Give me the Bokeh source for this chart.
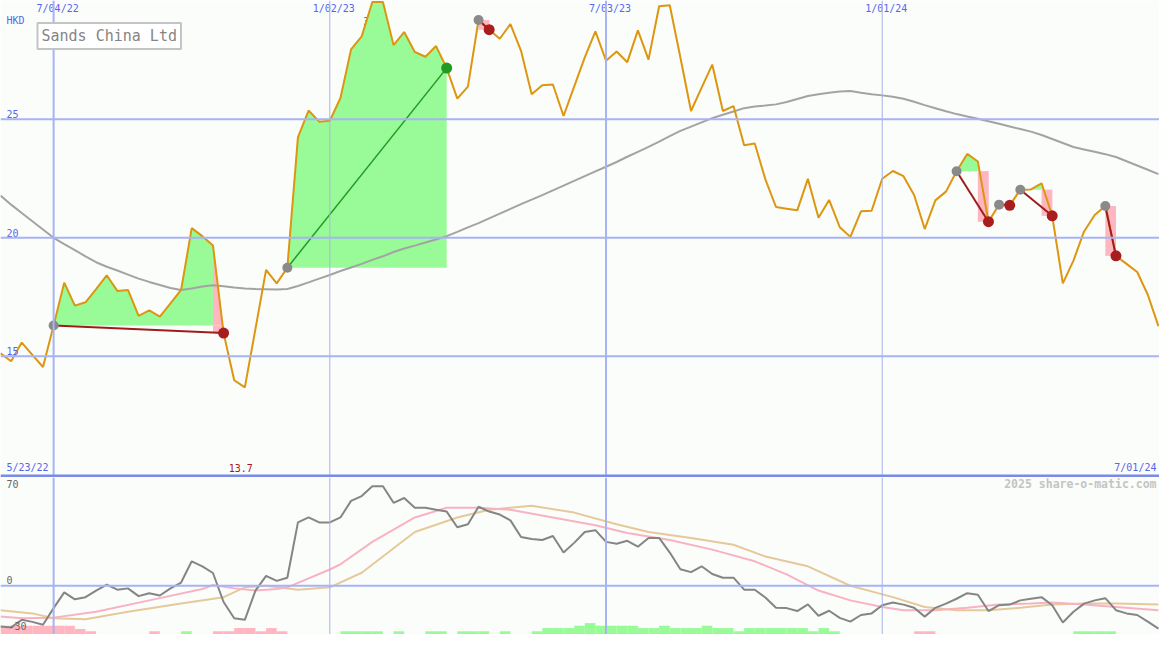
import numpy as np
import pandas as pd
from bokeh.plotting import figure
from bokeh.layouts import column
from bokeh.models import Range1d, Span, Label
from bokeh.core.properties import value
from bokeh.embed import file_html
from bokeh.resources import INLINE

# ---------------- data ----------------
first_week = "2022-05-30"
n_weeks = 110
price = [15.13, 14.79, 15.58, 15.06, 14.55, 16.30, 18.11, 17.14, 17.28, 17.84,
         18.42, 17.76, 17.80, 16.71, 16.94, 16.68, 17.23, 17.80, 20.41, 20.07,
         19.68, 15.98, 13.99, 13.69, 16.16, 18.65, 18.08, 18.74, 24.25, 25.37,
         24.90, 24.94, 25.90, 27.95, 28.50, 29.95, 29.95, 28.13, 28.68, 27.84,
         27.64, 28.09, 27.16, 25.87, 26.38, 29.19, 28.78, 28.40, 29.02, 27.89,
         26.06, 26.44, 26.47, 25.14, 26.38, 27.61, 28.71, 27.47, 27.86, 27.41,
         28.75, 27.52, 29.77, 29.81, 27.61, 25.35, 26.34, 27.31, 25.35, 25.56,
         23.91, 23.98, 22.47, 21.30, 21.23, 21.16, 22.49, 20.85, 21.60, 20.45,
         20.04, 21.12, 21.14, 22.49, 22.82, 22.60, 21.81, 20.37, 21.58, 21.95,
         22.81, 23.54, 23.22, 20.68, 21.40, 21.37, 22.03, 22.04, 22.30, 20.93,
         18.08, 19.04, 20.27, 20.96, 21.34, 19.24, 18.90, 18.56, 17.60, 16.27]
ma40 = [21.78, 21.40, 21.05, 20.70, 20.35, 20.00, 19.73, 19.48, 19.22, 18.97,
        18.78, 18.62, 18.45, 18.28, 18.14, 18.01, 17.88, 17.80, 17.86, 17.95,
        18.00, 17.96, 17.90, 17.86, 17.84, 17.83, 17.82, 17.84, 17.97, 18.12,
        18.28, 18.43, 18.60, 18.75, 18.90, 19.07, 19.22, 19.40, 19.55, 19.67,
        19.80, 19.93, 20.07, 20.25, 20.44, 20.62, 20.82, 21.02, 21.22, 21.42,
        21.61, 21.80, 22.00, 22.20, 22.40, 22.60, 22.80, 23.00, 23.20, 23.42,
        23.63, 23.84, 24.06, 24.29, 24.51, 24.69, 24.87, 25.05, 25.19, 25.33,
        25.47, 25.54, 25.58, 25.63, 25.73, 25.86, 25.98, 26.06, 26.12, 26.17,
        26.19, 26.12, 26.06, 26.01, 25.95, 25.87, 25.74, 25.60, 25.47, 25.34,
        25.22, 25.12, 25.02, 24.92, 24.81, 24.70, 24.59, 24.48, 24.34, 24.17,
        24.00, 23.83, 23.73, 23.63, 23.53, 23.41, 23.23, 23.05, 22.87, 22.69]
trade_entry = [5, 27, 45, 90, 94, 96, 104]
trade_exit = [21, 42, 46, 93, 95, 99, 105]

osc = [-27.8, -28.5, -23.3, -24.7, -26.7, -15.3, -4.5, -9.3, -7.8, -3.3,
       0.7, -2.7, -1.8, -7.1, -5.1, -6.7, -1.8, 2.2, 16.7, 13.3,
       8.7, -11.1, -22.2, -23.3, -3.3, 6.7, 3.3, 5.5, 43.3, 46.7,
       43.3, 43.3, 46.7, 58.0, 61.3, 68.0, 68.0, 56.7, 60.0, 53.3,
       53.3, 52.0, 50.7, 40.0, 42.0, 54.0, 50.7, 48.7, 44.7, 33.3,
       32.0, 31.3, 34.0, 22.7, 29.3, 36.7, 38.0, 30.0, 28.7, 30.7,
       26.7, 32.7, 32.7, 22.7, 11.3, 9.3, 13.3, 8.0, 5.5, 5.5,
       -2.7, -2.7, -8.0, -15.1, -15.3, -17.3, -12.7, -20.5, -17.1, -22.0,
       -24.5, -20.0, -18.9, -13.3, -11.5, -12.9, -15.1, -21.1, -15.1, -12.2,
       -8.9, -5.1, -6.2, -17.3, -13.3, -12.9, -10.0, -8.9, -7.8, -13.3,
       -25.1, -17.8, -12.2, -10.0, -8.5, -16.7, -18.9, -20.0, -24.5, -29.3]
fast_week = [0, 2, 5, 9, 14, 19, 20, 22, 24, 26, 27, 31, 32, 35, 39, 42, 45, 48,
             52, 56, 59, 63, 67, 71, 74, 77, 80, 83, 85, 88, 91, 94, 97, 99, 102, 105, 109]
fast_val = [-21.1, -22.2, -21.8, -17.8, -10.0, -2.2, 0.5, -1.8, -3.3, -2.2, -1.1, 11.1,
            14.7, 30.0, 46.7, 53.3, 53.3, 52.0, 46.7, 41.3, 36.0, 31.3, 24.7, 16.7,
            7.8, -3.3, -10.0, -14.5, -16.7, -16.7, -15.1, -12.9, -12.2, -11.5, -12.9,
            -14.5, -16.7]
slow_week = [0, 3, 5, 8, 12, 17, 21, 23, 25, 28, 31, 34, 39, 43, 46, 50, 54, 58,
             61, 65, 69, 72, 76, 80, 84, 87, 90, 93, 96, 99, 102, 105, 109]
slow_val = [-16.7, -18.9, -22.2, -22.9, -17.8, -12.2, -7.8, -1.1, 0.0, -2.7, -1.1, 8.9,
            36.7, 46.7, 52.0, 54.7, 50.0, 42.0, 36.7, 32.7, 28.0, 20.0, 13.3, 0.0,
            -7.8, -14.5, -16.7, -16.7, -15.1, -12.9, -12.2, -12.2, -12.9]
hist = ([-6.0] * 7 + [-3.8, -2.2] + [0.0] * 5 + [-2.2, 0.0, 0.0, 2.2, 0.0, 0.0,
        -2.2, -2.2, -4.4, -4.4, -2.2, -4.4, -2.2] + [0.0] * 5 + [2.2] * 4 +
        [0.0, 2.2, 0.0, 0.0, 2.2, 2.2, 0.0, 2.2, 2.2, 2.2, 0.0, 2.2, 0.0, 0.0, 2.2,
         4.4, 4.4, 4.4, 6.0, 7.8, 6.0, 6.0, 6.0, 6.0, 4.4, 4.4, 6.0, 4.4, 4.4, 4.4,
         6.0, 4.4, 4.4, 2.2, 4.4, 4.4, 4.4, 4.4, 4.4, 4.4, 2.2, 4.4, 2.2] +
        [0.0] * 7 + [-2.2, -2.2] + [0.0] * 13 + [2.2] * 4 + [0.0] * 5)

top_dates = ["7/04/22", "1/02/23", "7/03/23", "1/01/24"]
top_date_week = [5, 31, 57, 83]
price_grid = [15, 20, 25]
osc_labels = ["70", "0", "-30"]
osc_label_val = [69.7, 4.0, -27.3]
title = "Sands China Ltd"
currency = "HKD"
start_label = "5/23/22"
end_label = "7/01/24"
min_label = "13.7"
max_label = "30.0"

# ---------------- geometry helpers ----------------
WEEK = 7 * 86400000.0
t0 = pd.Timestamp(first_week).value / 1e6
xs = np.array([t0 + i * WEEK for i in range(n_weeks)])
W, H1, H2 = 1159, 477, 157
BG = "#fbfdfb"
BLUE_GRID = "#a7b3f3"
FONT = value("DejaVu Sans Mono")
FS = "10px"


def py(ypx):  # reference pixel row -> price
    return 20 + (243.3 - ypx) / 24.3


def vy(ypx):  # reference pixel row -> oscillator value
    return (600 - ypx) / 1.5


xr = Range1d(t0, t0 + 109.1 * WEEK)
p1 = figure(width=W, height=H1, x_range=xr, y_range=Range1d(py(489), py(0)),
            output_backend="svg", toolbar_location=None, min_border=0,
            background_fill_color=BG, border_fill_color=BG, outline_line_color=None)
p2 = figure(width=W, height=H2, x_range=xr, y_range=Range1d(vy(650), vy(489)),
            output_backend="svg", toolbar_location=None, min_border=0,
            background_fill_color=BG, border_fill_color=BG, outline_line_color=None)
for p in (p1, p2):
    p.axis.visible = False
    p.grid.visible = False
    for wk in top_date_week:
        major = wk in (5, 57)
        p.add_layout(Span(location=xs[wk], dimension="height",
                          line_color=BLUE_GRID if major else "#aab2ea",
                          line_width=2 if major else 1))

for g in price_grid:
    p1.add_layout(Span(location=g, dimension="width", line_color=BLUE_GRID, line_width=2))
p2.add_layout(Span(location=0, dimension="width", line_color=BLUE_GRID, line_width=2))

# ---------------- top panel ----------------
p1.text(x=[xs[35]], y=[py(21)], text=[max_label], text_font=FONT, text_font_size=FS,
        text_color="#22a022", text_baseline="middle", text_align="left", x_offset=-9)

for e, x_ in zip(trade_entry, trade_exit):
    ep = price[e]
    xp = price[x_]
    last = e
    while last + 1 <= x_ and price[last + 1] >= ep:
        last += 1
    if last > e:
        p1.varea(x=xs[e:last + 1], y1=[ep] * (last - e + 1), y2=price[e:last + 1],
                 fill_color="#98fb98")
    if xp < ep:
        # final losing week: area between price and entry, plus entry->exit block
        p1.varea(x=xs[x_ - 1:x_ + 1], y1=[ep, ep], y2=price[x_ - 1:x_ + 1],
                 fill_color="#ffb6c1")
        p1.quad(left=[xs[x_ - 1]], right=[xs[x_]], bottom=[xp], top=[ep],
                fill_color="#ffb6c1", line_color=None)

p1.line(xs, ma40, line_color="#a3a3a3", line_width=2)
p1.line(xs, price, line_color="#dc9610", line_width=2)

for e, x_ in zip(trade_entry, trade_exit):
    win = price[x_] >= price[e]
    p1.line([xs[e], xs[x_]], [price[e], price[x_]],
            line_color="#229a22" if win else "#9e1c1c", line_width=1.5 if win else 2)
    p1.scatter([xs[e]], [price[e]], size=10, fill_color="#8a8a8a", line_color=None)
    p1.scatter([xs[x_]], [price[x_]], size=11,
               fill_color="#229922" if win else "#a81e1e", line_color=None)

p1.text(x=[xs[w] for w in top_date_week], y=[py(8)] * 4, text=top_dates, text_font=FONT,
        text_font_size=FS, text_color="#5566ee", text_align="center",
        text_baseline="middle", x_offset=4)
p1.text(x=[xs[0]] * 3, y=[g + 5 / 24.3 for g in price_grid], text=[str(g) for g in price_grid],
        text_font=FONT, text_font_size=FS, text_color="#5566ee",
        text_align="left", text_baseline="middle", x_offset=6)
p1.text(x=[xs[0]], y=[py(21)], text=[currency], text_font=FONT, text_font_size=FS,
        text_color="#5566ee", text_align="left", text_baseline="middle", x_offset=6)
p1.text(x=[xs[5]], y=[py(479)], text=[start_label], text_font=FONT, text_font_size=FS,
        text_color="#5566ee", text_align="right", text_baseline="middle", x_offset=-5)
p1.text(x=[xs[109]], y=[py(479)], text=[end_label], text_font=FONT, text_font_size=FS,
        text_color="#5566ee", text_align="right", text_baseline="middle", x_offset=-2)
p1.text(x=[xs[int(np.argmin(price))]], y=[py(479)], text=[min_label], text_font=FONT,
        text_font_size=FS, text_color="#aa1515", text_align="center",
        text_baseline="middle", x_offset=-4)
p1.add_layout(Label(x=xs[0], y=py(36.3), x_offset=37, text=title, text_font="DejaVu Sans Mono",
                    text_font_size="15px", text_color="#858585", text_baseline="middle",
                    background_fill_color="#ffffff", border_line_color="#c4c4c4",
                    border_line_width=2, padding=4))
p1.add_layout(Span(location=py(487.5), dimension="width", line_color="#7b8ae6", line_width=3))

# ---------------- bottom panel ----------------
base = vy(650)
hx = [xs[i] for i in range(n_weeks) if hist[i] != 0]
hv = [hist[i] for i in range(n_weeks) if hist[i] != 0]
p2.quad(left=hx, right=[h + WEEK for h in hx], bottom=[base] * len(hx),
        top=[base + abs(v) for v in hv],
        fill_color=["#98fb98" if v > 0 else "#ffb6c1" for v in hv], line_color=None)
p2.line([xs[w] for w in slow_week], slow_val, line_color="#e6c99a", line_width=2)
p2.line([xs[w] for w in fast_week], fast_val, line_color="#f8b2c2", line_width=2)
p2.line(xs, osc, line_color="#858585", line_width=2)
p2.text(x=[xs[0]] * 3, y=osc_label_val, text=osc_labels, text_font=FONT, text_font_size=FS,
        text_color="#666666", text_align="left", text_baseline="middle", x_offset=[6, 6, 8])
p2.text(x=[xr.end], y=[vy(496)], text=["2025 share-o-matic.com"], text_font=FONT,
        text_font_size="11.5px", text_font_style="bold", text_color="#c4c4c4",
        text_align="right", text_baseline="middle", x_offset=-3)

layout = column(p1, p2, spacing=0)
open("out.html", "w").write(file_html(layout, INLINE))
